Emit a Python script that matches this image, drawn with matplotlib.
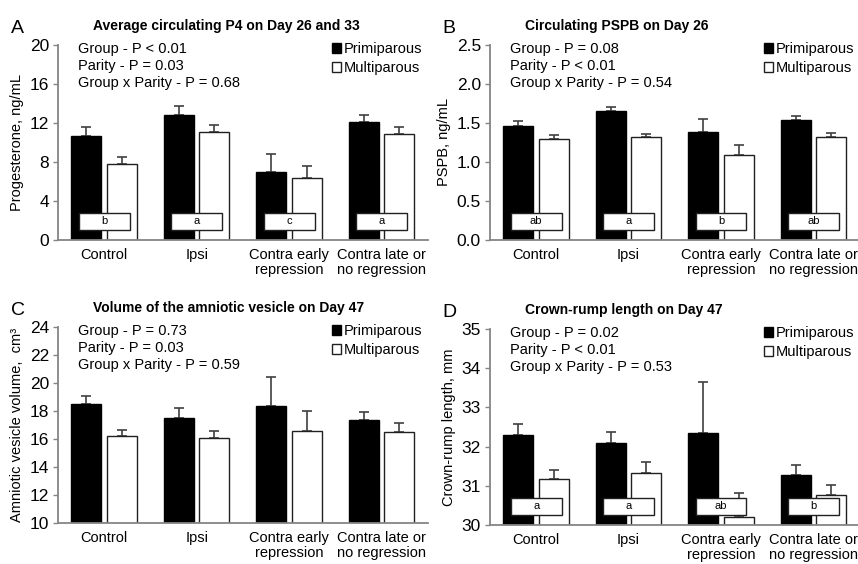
import numpy as np
import matplotlib
matplotlib.use("Agg")
import matplotlib.pyplot as plt
from matplotlib.patches import Rectangle

plt.rcParams['font.family'] = ['Liberation Sans', 'DejaVu Sans']

groups = ['Control', 'Ipsi', 'Contra early\nrepression', 'Contra late or\nno regression']
series = ['Primiparous', 'Multiparous']

# A - progesterone
p4_primi = [10.7, 12.8, 7.0, 12.1]
p4_primi_se = [0.88, 0.98, 1.78, 0.74]
p4_multi = [7.8, 11.1, 6.4, 10.9]
p4_multi_se = [0.72, 0.65, 1.22, 0.64]
p4_letters = ['b', 'a', 'c', 'a']
p4_stats = ['Group - P < 0.01', 'Parity - P = 0.03', 'Group x Parity - P = 0.68']

# B - PSPB
pspb_primi = [1.46, 1.65, 1.38, 1.54]
pspb_primi_se = [0.07, 0.056, 0.174, 0.056]
pspb_multi = [1.29, 1.32, 1.09, 1.32]
pspb_multi_se = [0.056, 0.045, 0.124, 0.055]
pspb_letters = ['ab', 'a', 'b', 'ab']
pspb_stats = ['Group - P = 0.08', 'Parity - P < 0.01', 'Group x Parity - P = 0.54']

# C - amniotic vesicle volume
vol_primi = [18.48, 17.52, 18.36, 17.33]
vol_primi_se = [0.56, 0.67, 2.10, 0.57]
vol_multi = [16.22, 16.07, 16.58, 16.53]
vol_multi_se = [0.43, 0.53, 1.42, 0.58]
vol_letters = None
vol_stats = ['Group - P = 0.73', 'Parity - P = 0.03', 'Group x Parity - P = 0.59']

# D - crown-rump length
crl_primi = [32.29, 32.09, 32.36, 31.28]
crl_primi_se = [0.28, 0.28, 1.29, 0.25]
crl_multi = [31.17, 31.32, 30.20, 30.76]
crl_multi_se = [0.23, 0.28, 0.61, 0.27]
crl_letters = ['a', 'a', 'ab', 'b']
crl_stats = ['Group - P = 0.02', 'Parity - P < 0.01', 'Group x Parity - P = 0.53']

AXIS_GREY = '#858585'
ERR_GREY = '#404040'


def panel(ax, letter, title, ylabel, primi, primi_se, multi, multi_se,
          letters, stats, ylim, yticks, yfmt):
    x = np.arange(len(groups))
    w = 0.325
    off = 0.192
    b1 = ax.bar(x - off, primi, w, color='black', edgecolor='black',
                linewidth=1, label=series[0], zorder=2)
    b2 = ax.bar(x + off, multi, w, color='white', edgecolor='#202020',
                linewidth=1, label=series[1], zorder=2)
    ax.errorbar(x - off, primi, yerr=[np.zeros(4), primi_se], fmt='none',
                ecolor=ERR_GREY, elinewidth=1.2, capsize=3.8, capthick=1.2, zorder=1)
    ax.errorbar(x + off, multi, yerr=[np.zeros(4), multi_se], fmt='none',
                ecolor=ERR_GREY, elinewidth=1.2, capsize=3.8, capthick=1.2, zorder=1)

    ax.set_xlim(-0.5, 3.5)
    ax.set_ylim(*ylim)
    ax.set_yticks(yticks)
    ax.set_yticklabels([yfmt % t for t in yticks], fontsize=12.5)
    ax.set_xticks(x)
    ax.set_xticklabels(groups, fontsize=10.5, linespacing=1.05)
    ax.tick_params(axis='x', length=0, pad=6)
    ax.tick_params(axis='y', length=3.5, width=1, color=AXIS_GREY, pad=3)
    for s in ['top', 'right']:
        ax.spines[s].set_visible(False)
    for s in ['left', 'bottom']:
        ax.spines[s].set_color(AXIS_GREY)
        ax.spines[s].set_linewidth(1.3)
    ax.set_ylabel(ylabel, fontsize=10.5, labelpad=4)

    ax.text(0.054, 1.015, '\n'.join(stats), transform=ax.transAxes,
            fontsize=10.5, va='top', ha='left', linespacing=1.25)

    ax.legend(handles=[b1, b2], loc='upper left', bbox_to_anchor=(0.725, 1.045),
              frameon=False, fontsize=10.5, handlelength=0.65, handleheight=0.65,
              handletextpad=0.15, labelspacing=0.35, borderaxespad=0)

    if letters:
        tr = ax.get_xaxis_transform()
        for xi, lab in zip(x, letters):
            ax.add_patch(Rectangle((xi - 0.275, 0.052), 0.55, 0.088, transform=tr,
                                   facecolor='white', edgecolor='#202020',
                                   linewidth=1, zorder=3, clip_on=False))
            ax.text(xi, 0.096, lab, transform=tr, ha='center', va='center',
                    fontsize=8, zorder=4)

    fig = ax.figure
    pos = ax.get_position()
    fig.text(pos.x0 - 0.055, pos.y1 + 0.015, letter, fontsize=14, va='bottom', ha='left')
    fig.text(pos.x0 + 0.041, pos.y1 + 0.022, title, fontsize=10, fontweight='bold',
             va='bottom', ha='left')


fig = plt.figure(figsize=(8.58, 5.64), dpi=100)
axA = fig.add_axes([0.0676, 0.5745, 0.431, 0.3457])
axB = fig.add_axes([0.571, 0.5745, 0.431, 0.3457])
axC = fig.add_axes([0.0676, 0.0727, 0.431, 0.3475])
axD = fig.add_axes([0.571, 0.0691, 0.431, 0.3475])

panel(axA, 'A', 'Average circulating P4 on Day 26 and 33', 'Progesterone, ng/mL',
      p4_primi, p4_primi_se, p4_multi, p4_multi_se, p4_letters, p4_stats,
      (0, 20), [0, 4, 8, 12, 16, 20], '%d')
panel(axB, 'B', 'Circulating PSPB on Day 26', 'PSPB, ng/mL',
      pspb_primi, pspb_primi_se, pspb_multi, pspb_multi_se, pspb_letters, pspb_stats,
      (0, 2.5), [0, 0.5, 1.0, 1.5, 2.0, 2.5], '%.1f')
panel(axC, 'C', 'Volume of the amniotic vesicle on Day 47', 'Amniotic vesicle volume,  cm³',
      vol_primi, vol_primi_se, vol_multi, vol_multi_se, vol_letters, vol_stats,
      (10, 24), [10, 12, 14, 16, 18, 20, 22, 24], '%d')
panel(axD, 'D', 'Crown-rump length on Day 47', 'Crown-rump length, mm',
      crl_primi, crl_primi_se, crl_multi, crl_multi_se, crl_letters, crl_stats,
      (30, 35), [30, 31, 32, 33, 34, 35], '%d')

fig.savefig('out.png', dpi=100)
